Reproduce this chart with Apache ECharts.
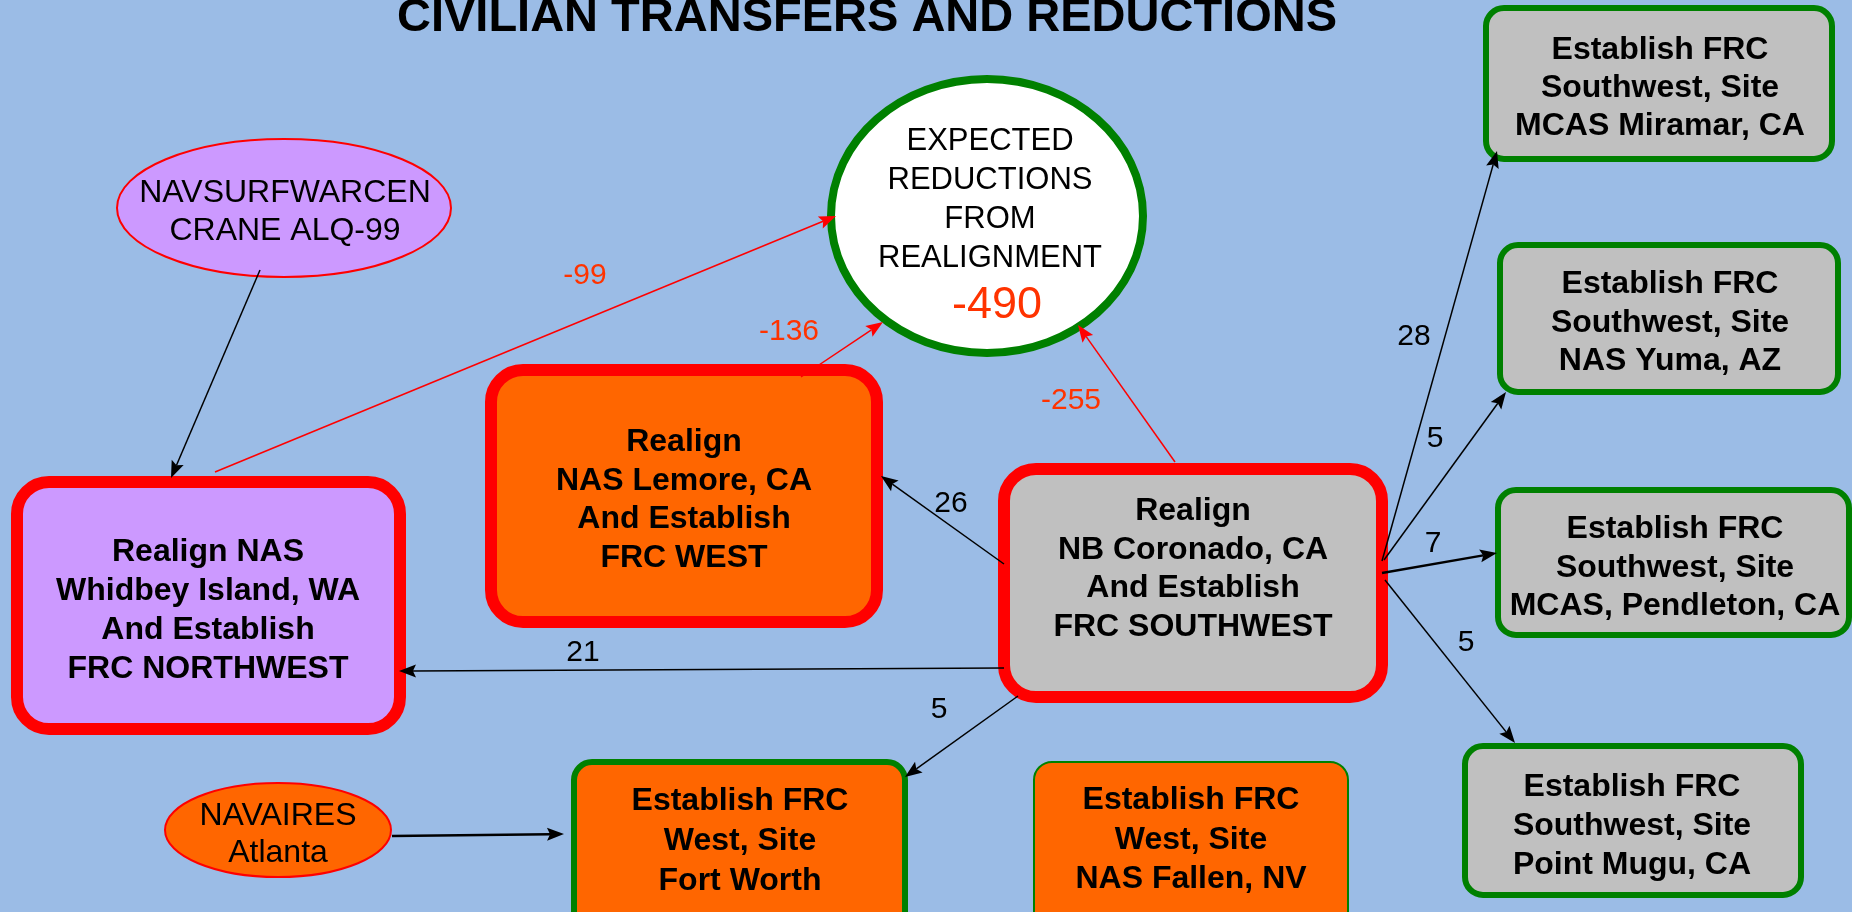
<!DOCTYPE html>
<html>
<head>
<meta charset="utf-8">
<script src="https://cdn.jsdelivr.net/npm/echarts@6/dist/echarts.min.js"></script>
<style>
html,body{margin:0;padding:0;background:#9BBCE6;}
#chart{width:1852px;height:912px;}
</style>
</head>
<body>
<div id="chart"></div>
<script>
// ---------------- data ----------------
const chartTitle = 'CIVILIAN TRANSFERS AND REDUCTIONS';
const nodeIds = ['navsurf','whidbey','lemore','coronado','expected','miramar','yuma','pendleton','mugu','navaires','fortworth','fallen'];
const nodeLabels = [
  'NAVSURFWARCEN\nCRANE ALQ-99',
  'Realign NAS\nWhidbey Island, WA\nAnd Establish\nFRC NORTHWEST',
  'Realign\nNAS Lemore, CA\nAnd Establish\nFRC WEST',
  'Realign\nNB Coronado, CA\nAnd Establish\nFRC SOUTHWEST',
  'EXPECTED\nREDUCTIONS\nFROM\nREALIGNMENT',
  'Establish FRC\nSouthwest, Site\nMCAS Miramar, CA',
  'Establish FRC\nSouthwest, Site\nNAS Yuma, AZ',
  'Establish FRC\nSouthwest, Site\nMCAS, Pendleton, CA',
  'Establish FRC\nSouthwest, Site\nPoint Mugu, CA',
  'NAVAIRES\nAtlanta',
  'Establish FRC\nWest, Site\nFort Worth',
  'Establish FRC\nWest, Site\nNAS Fallen, NV'
];
const transferFrom   = ['navsurf','coronado','coronado','coronado','coronado','coronado','coronado','coronado','navaires'];
const transferTo     = ['whidbey','lemore','whidbey','fortworth','miramar','yuma','pendleton','mugu','fortworth'];
const transferValues = [null, 26, 21, 5, 28, 5, 7, 5, null];
const reductionFrom   = ['whidbey','lemore','coronado'];
const reductionValues = [-99, -136, -255];
const totalReduction  = -490;

// ---------------- layout (data units of a hidden 1852 x 912 plane) ----------------
const TY = 3; // text baseline correction
const nodeLayout = {
  navsurf:   {shape:'ellipse', c:[284,208], r:[167,69], text:[285,209]},
  whidbey:   {shape:'rect', p0:[17,482],   p1:[400,729],  r:32, text:[208,608]},
  lemore:    {shape:'rect', p0:[491,370],  p1:[877,622],  r:32, text:[684,497]},
  coronado:  {shape:'rect', p0:[1004,469], p1:[1382,697], r:32, text:[1193,566]},
  expected:  {shape:'ellipse', c:[987,216], r:[156,137], text:[990,197], total:[997,303]},
  miramar:   {shape:'rect', p0:[1486,8],   p1:[1832,159], r:18, text:[1660,85]},
  yuma:      {shape:'rect', p0:[1500,245], p1:[1838,392], r:18, text:[1670,320]},
  pendleton: {shape:'rect', p0:[1498,490], p1:[1849,635], r:18, text:[1675,565]},
  mugu:      {shape:'rect', p0:[1465,746], p1:[1801,895], r:18, text:[1632,823]},
  navaires:  {shape:'ellipse', c:[278,830], r:[113,47], text:[278,832]},
  fortworth: {shape:'rect', p0:[574,762],  p1:[905,960],  r:18, text:[740,838]},
  fallen:    {shape:'rect', p0:[1034,762], p1:[1348,960], r:18, text:[1191,837]}
};
const transferLayout = [
  {start:[260,270],  end:[171,478],  label:null},
  {start:[1004,564], end:[881,476],  label:[951,501]},
  {start:[1004,668], end:[399,671],  label:[583,650]},
  {start:[1018,696], end:[905,777],  label:[939,707]},
  {start:[1382,561], end:[1497,151], label:[1414,334]},
  {start:[1384,560], end:[1506,392], label:[1435,436]},
  {start:[1382,573], end:[1497,553], label:[1433,541], width:2.5},
  {start:[1385,580], end:[1515,743], label:[1466,640]},
  {start:[392,836],  end:[564,834],  label:null, width:2.5}
];
const reductionLayout = [
  {start:[215,472],  end:[836,216], label:[585,273]},
  {start:[801,377],  end:[883,322], label:[789,329]},
  {start:[1175,462], end:[1078,325], label:[1071,398]}
];

// ---------------- styles ----------------
const FONT = "'Liberation Sans', Arial, Helvetica, sans-serif";
const nodeStyle = {
  navsurf:   {fill:'#CC99FF', stroke:'#FF0000', lw:2,  font:32, weight:'normal', lh:38, shadow:'#FFFFFF'},
  whidbey:   {fill:'#CC99FF', stroke:'#FF0000', lw:12, font:32, weight:'bold', lh:39},
  lemore:    {fill:'#FF6600', stroke:'#FF0000', lw:12, font:32, weight:'bold', lh:38.5},
  coronado:  {fill:'#C0C0C0', stroke:'#FF0000', lw:12, font:32, weight:'bold', lh:38.5},
  expected:  {fill:'#FFFFFF', stroke:'#008000', lw:8,  font:31, weight:'normal', lh:38.7, shadow:'rgba(0,0,0,0.28)'},
  miramar:   {fill:'#C0C0C0', stroke:'#008000', lw:6,  font:32, weight:'bold', lh:38},
  yuma:      {fill:'#C0C0C0', stroke:'#008000', lw:6,  font:32, weight:'bold', lh:38.5},
  pendleton: {fill:'#C0C0C0', stroke:'#008000', lw:6,  font:32, weight:'bold', lh:38.5},
  mugu:      {fill:'#C0C0C0', stroke:'#008000', lw:6,  font:32, weight:'bold', lh:39},
  navaires:  {fill:'#FF6600', stroke:'#FF0000', lw:2,  font:32, weight:'normal', lh:37, shadow:'#FFFFFF'},
  fortworth: {fill:'#FF6600', stroke:'#008000', lw:6,  font:32, weight:'bold', lh:40},
  fallen:    {fill:'#FF6600', stroke:'#008000', lw:2,  font:32, weight:'bold', lh:39.5}
};
const transferColor = '#000000';
const reductionColor = '#FF0000';
const reductionLabelColor = '#FF3300';

// ---------------- build ----------------
const edges = [];
transferFrom.forEach((f, i) => {
  const L = transferLayout[i];
  edges.push({from:f, to:transferTo[i], value:transferValues[i], start:L.start, end:L.end,
    labelAt:L.label, color:transferColor, labelColor:'#000000', width:L.width || 1.5});
});
reductionFrom.forEach((f, i) => {
  const L = reductionLayout[i];
  edges.push({from:f, to:'expected', value:reductionValues[i], start:L.start, end:L.end,
    labelAt:L.label, color:reductionColor, labelColor:reductionLabelColor, width:1.5});
});

function textPos(api, p) { return api.coord([p[0], p[1] + TY]); }

function renderNode(params, api) {
  const id = nodeIds[params.dataIndex];
  const L = nodeLayout[id], S = nodeStyle[id];
  const children = [];
  if (L.shape === 'rect') {
    const a = api.coord(L.p0), b = api.coord(L.p1);
    children.push({type:'rect', shape:{x:a[0], y:a[1], width:b[0]-a[0], height:b[1]-a[1], r:L.r},
      style:{fill:S.fill, stroke:S.stroke, lineWidth:S.lw}});
  } else {
    const c = api.coord(L.c);
    const e = api.coord([L.c[0] + L.r[0], L.c[1] + L.r[1]]);
    children.push({type:'ellipse', shape:{cx:c[0], cy:c[1], rx:Math.abs(e[0]-c[0]), ry:Math.abs(e[1]-c[1])},
      style:{fill:S.fill, stroke:S.stroke, lineWidth:S.lw}});
  }
  const t = textPos(api, L.text);
  const ts = {text:nodeLabels[params.dataIndex], x:t[0], y:t[1], align:'center', verticalAlign:'middle',
    fontFamily:FONT, fontSize:S.font, fontWeight:S.weight, lineHeight:S.lh, fill:'#000000'};
  if (S.shadow) { ts.textShadowColor = S.shadow; ts.textShadowOffsetX = 1.5; ts.textShadowOffsetY = 1.5; ts.textShadowBlur = 0; }
  children.push({type:'text', style:ts});
  if (id === 'expected') {
    const p = textPos(api, L.total);
    children.push({type:'text', style:{text:String(totalReduction), x:p[0], y:p[1], align:'center', verticalAlign:'middle',
      fontFamily:FONT, fontSize:45, fill:reductionLabelColor,
      textShadowColor:'rgba(0,0,0,0.3)', textShadowOffsetX:2, textShadowOffsetY:2, textShadowBlur:0}});
  }
  return {type:'group', children};
}

function renderEdge(params, api) {
  const e = edges[params.dataIndex];
  const a = api.coord(e.start), b = api.coord(e.end);
  const dx = b[0]-a[0], dy = b[1]-a[1], d = Math.hypot(dx, dy);
  const ux = dx/d, uy = dy/d;
  const len = 17, hw = 6.5;
  const base = [b[0]-ux*len, b[1]-uy*len];
  const notch = [b[0]-ux*len*0.82, b[1]-uy*len*0.82];
  const left = [base[0]-uy*hw, base[1]+ux*hw];
  const right = [base[0]+uy*hw, base[1]-ux*hw];
  const children = [
    {type:'line', shape:{x1:a[0], y1:a[1], x2:notch[0], y2:notch[1]}, style:{stroke:e.color, lineWidth:e.width}},
    {type:'polygon', shape:{points:[b, left, notch, right]}, style:{fill:e.color}}
  ];
  if (e.value !== null && e.labelAt) {
    const p = textPos(api, e.labelAt);
    children.push({type:'text', style:{text:String(e.value), x:p[0], y:p[1], align:'center', verticalAlign:'middle',
      fontFamily:FONT, fontSize:30, fill:e.labelColor}});
  }
  return {type:'group', children};
}

const chart = echarts.init(document.getElementById('chart'), null, {renderer:'canvas'});
chart.setOption({
  animation:false,
  backgroundColor:'#9BBCE6',
  grid:{left:0, right:0, top:0, bottom:0},
  xAxis:{type:'value', min:0, max:1852, show:false, splitLine:{show:false}},
  yAxis:{type:'value', min:0, max:912, inverse:true, show:false, splitLine:{show:false}},
  graphic:[{type:'text', x:867, y:15 + TY, z:100,
    style:{text:chartTitle, align:'center', verticalAlign:'middle', fontFamily:FONT, fontSize:47, fontWeight:'bold', fill:'#000000'}}],
  series:[
    {type:'custom', name:'nodes', coordinateSystem:'cartesian2d', z:2, silent:true,
     data:nodeIds.map((id, i) => [i, 0]), renderItem:renderNode},
    {type:'custom', name:'edges', coordinateSystem:'cartesian2d', z:3, silent:true,
     data:edges.map((e, i) => [i, 0]), renderItem:renderEdge}
  ]
});
</script>
</body>
</html>
